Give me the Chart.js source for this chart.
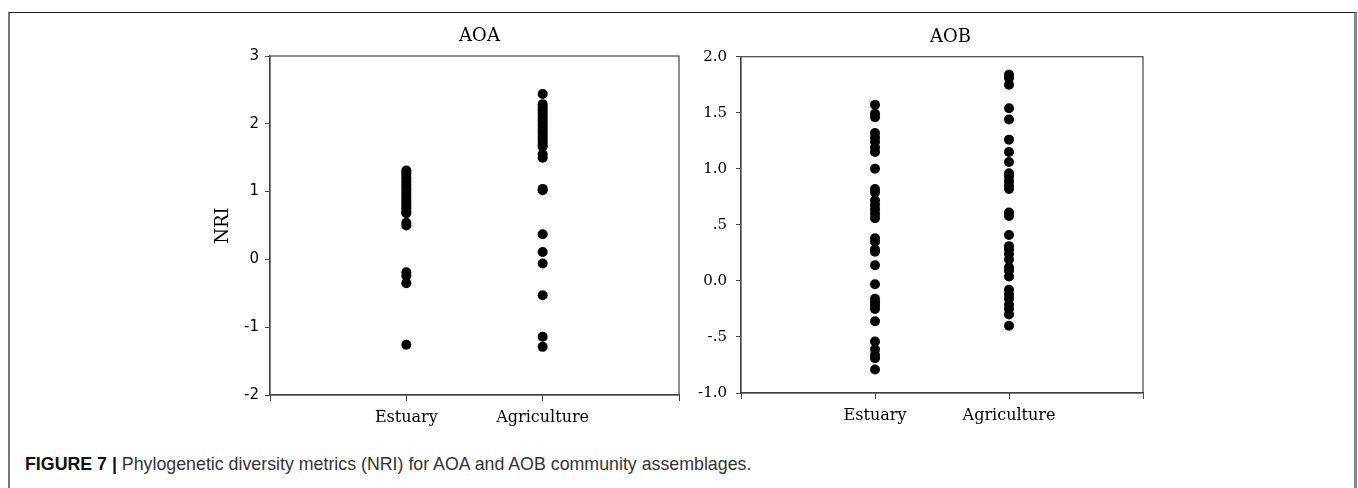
<!DOCTYPE html>
<html>
<head>
<meta charset="utf-8">
<script src="https://cdn.jsdelivr.net/npm/chart.js@4/dist/chart.umd.min.js"></script>
<style>
  body { margin: 0; background: #fff; width: 1358px; height: 488px; overflow: hidden; position: relative; }
  #frame { position: absolute; left: 8px; top: 12px; width: 1344px; height: 490px;
           border-top: 1.5px solid #222; border-left: 2px solid #777; border-right: 3px solid #888; }
  canvas { position: absolute; top: 0; }
  #aoa { left: 190px; }
  #aob { left: 690px; }
  #caption { position: absolute; left: 25px; top: 454px; font-family: "Liberation Sans", Arial, sans-serif;
             font-size: 17.8px; color: #333; white-space: nowrap; }
  #caption b { color: #111; }
</style>
</head>
<body>
<div id="frame"></div>
<canvas id="aoa" width="579" height="445"></canvas>
<canvas id="aob" width="521" height="445"></canvas>
<div id="caption"><b>FIGURE 7 |</b> Phylogenetic diversity metrics (NRI) for AOA and AOB community assemblages.</div>
<script>
// x positions 1 and 2 on a 0..3 axis
const categories = ['Estuary', 'Agriculture'];

// AOA NRI values
const aoaEstuary = [1.31, 1.27, 1.23, 1.19, 1.15, 1.11, 1.07, 1.03, 0.99, 0.95, 0.91, 0.87, 0.83, 0.79,
                    0.75, 0.71, 0.68, 0.54, 0.50, -0.19, -0.24, -0.35, -1.26];
const aoaAgriculture = [2.44, 2.29, 2.25, 2.21, 2.17, 2.13, 2.09, 2.05, 2.01, 1.97, 1.93, 1.89, 1.85,
                        1.81, 1.77, 1.73, 1.69, 1.66, 1.55, 1.50, 1.04, 1.02, 0.37, 0.11, -0.06,
                        -0.53, -1.14, -1.29];

// AOB NRI values
const aobEstuary = [1.57, 1.49, 1.46, 1.32, 1.28, 1.24, 1.19, 1.15, 1.00, 0.82, 0.79, 0.72, 0.68, 0.64,
                    0.60, 0.56, 0.38, 0.35, 0.28, 0.26, 0.14, -0.03, -0.16, -0.19, -0.22, -0.25,
                    -0.36, -0.54, -0.61, -0.66, -0.69, -0.79];
const aobAgriculture = [1.84, 1.81, 1.75, 1.54, 1.44, 1.26, 1.15, 1.06, 0.96, 0.93, 0.89, 0.85, 0.82,
                        0.61, 0.58, 0.41, 0.31, 0.28, 0.24, 0.19, 0.12, 0.09, 0.04, -0.08, -0.12,
                        -0.16, -0.21, -0.25, -0.30, -0.40];

const aobTickValues = [-1, -0.5, 0, 0.5, 1, 1.5, 2];
const aobTickLabels = ['-1.0', '-.5', '0.0', '.5', '1.0', '1.5', '2.0'];

const serif = 'DejaVu Serif';

// draws the box round the plot area
const frameBox = {
  id: 'frameBox',
  afterDraw(chart) {
    const a = chart.chartArea, ctx = chart.ctx;
    ctx.save();
    ctx.strokeStyle = '#444';
    ctx.lineWidth = 1.2;
    ctx.strokeRect(a.left, a.top, a.right - a.left, a.bottom - a.top);
    ctx.restore();
  }
};

function toPoints(pos, vals) {
  return vals.map(v => ({ x: pos, y: v }));
}

function makeChart(id, cfg) {
  return new Chart(document.getElementById(id), {
    type: 'scatter',
    data: {
      datasets: [
        { label: categories[0], data: toPoints(1, cfg.est) },
        { label: categories[1], data: toPoints(2, cfg.agr) }
      ]
    },
    options: {
      responsive: false,
      animation: false,
      layout: { padding: 0 },
      elements: { point: { radius: 5, borderWidth: 0, backgroundColor: '#000', hoverRadius: 5 } },
      plugins: {
        legend: { display: false },
        tooltip: { enabled: false },
        title: {
          display: true, text: cfg.title, fullSize: true, color: '#000',
          font: { family: serif, size: 18, weight: 'normal' },
          padding: { top: cfg.titleTop, bottom: cfg.titleBottom }
        }
      },
      scales: {
        x: {
          type: 'linear', min: 0, max: 3,
          afterFit: s => { s.height = cfg.xHeight; },
          border: { color: '#444', width: 1.2 },
          grid: { display: true, drawOnChartArea: false, drawTicks: true, tickLength: 6, color: '#444' },
          ticks: {
            stepSize: 1, padding: 7, color: '#000', maxRotation: 0,
            font: { family: serif, size: 16 },
            callback: v => (v === 1 || v === 2) ? categories[v - 1] : ''
          }
        },
        y: {
          min: cfg.yMin, max: cfg.yMax,
          afterFit: s => { s.width = cfg.yWidth; },
          border: { color: '#444', width: 1.2 },
          grid: { display: true, drawOnChartArea: false, drawTicks: true, tickLength: 5, color: '#444' },
          title: {
            display: !!cfg.yTitle, text: cfg.yTitle, color: '#000',
            font: { family: serif, size: 18 }, padding: { top: 23, bottom: 0 }
          },
          ticks: {
            stepSize: cfg.step, padding: cfg.tickPad, color: '#000',
            font: cfg.tickFont,
            callback: cfg.tickFmt
          }
        },
        // empty right-hand space so the title centres where the original has it
        yRight: {
          position: 'right', display: true,
          afterFit: s => { s.width = cfg.padRight; },
          grid: { display: false }, border: { display: false }, ticks: { display: false }
        }
      }
    },
    plugins: [frameBox]
  });
}

makeChart('aoa', {
  title: 'AOA', est: aoaEstuary, agr: aoaAgriculture,
  yMin: -2, yMax: 3, step: 1, yTitle: 'NRI',
  yWidth: 80, xHeight: 50, padRight: 90, titleTop: 25.5, titleBottom: 8.9, tickPad: 6,
  tickFont: { family: 'DejaVu Sans', size: 15 },
  tickFmt: v => String(v)
});

makeChart('aob', {
  title: 'AOB', est: aobEstuary, agr: aobAgriculture,
  yMin: -1, yMax: 2, step: 0.5, yTitle: '',
  yWidth: 51, xHeight: 52, padRight: 68, titleTop: 27, titleBottom: 8.1, tickPad: 9,
  tickFont: { family: serif, size: 15 },
  tickFmt: v => aobTickLabels[aobTickValues.indexOf(v)]
});
</script>
</body>
</html>
